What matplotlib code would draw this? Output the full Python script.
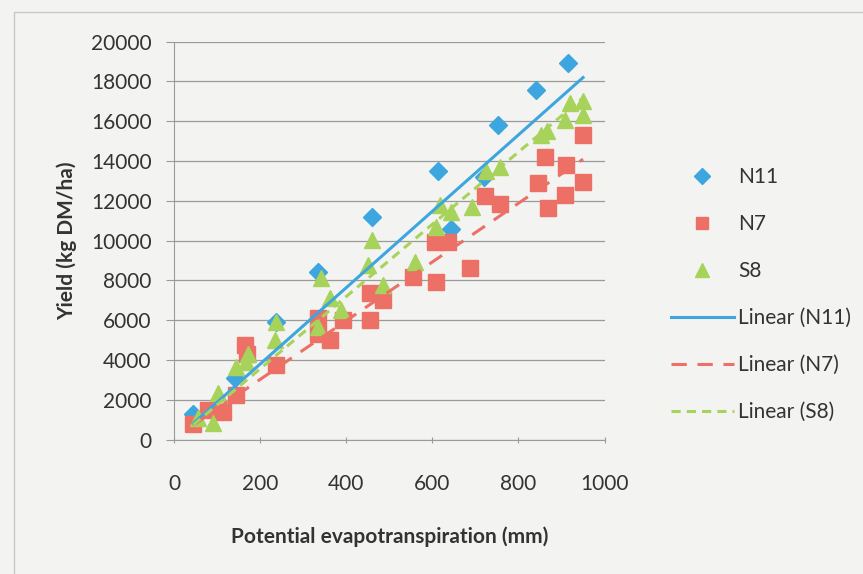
import numpy as np
import matplotlib.pyplot as plt
from matplotlib.patches import Rectangle

plt.rcParams['font.family'] = ['Lato', 'DejaVu Sans']

# Potential evapotranspiration (mm) and yield (kg DM/ha)
n11_x = [45, 142, 238, 335, 459, 613, 644, 720, 752, 841, 915]
n11_y = [1300, 3100, 5900, 8400, 11200, 13500, 10600, 13200, 15800, 17550, 18900]

n7_x = [45, 80, 114, 145, 166, 170, 238, 335, 335, 362, 393, 455, 455, 486,
        555, 609, 606, 637, 687, 722, 756, 845, 861, 869, 907, 911, 950, 950]
n7_y = [800, 1500, 1400, 2240, 4750, 4300, 3740, 6090, 5300, 5000, 6000, 7350,
        6000, 7010, 8180, 7930, 9900, 9900, 8600, 12250, 11850, 12870, 14200,
        11620, 12290, 13800, 15300, 12950]

s8_x = [55, 91, 103, 145, 168, 172, 234, 238, 335, 342, 362, 389, 451, 459,
        486, 559, 609, 617, 644, 691, 725, 756, 853, 866, 907, 919, 950, 950]
s8_y = [1100, 810, 2320, 3660, 3900, 4300, 5000, 5900, 5670, 8100, 7100, 6500,
        8770, 10030, 7760, 8930, 10690, 11780, 11450, 11700, 13500, 13700,
        15300, 15500, 16060, 16900, 17000, 16300]

series_names = ['N11', 'N7', 'S8']
# linear trendlines as drawn in the chart (slope per mm, intercept)
trend_slope = [19.2, 14.76, 18.16]
trend_intercept = [-50, 66, -80]

x_ticks = [0, 200, 400, 600, 800, 1000]
y_ticks = list(range(0, 20001, 2000))

bg = '#f3f3f1'
c_blue = '#3ea6de'
c_red = '#ec7066'
c_green = '#a8d35a'

fig = plt.figure(figsize=(8.63, 5.74), dpi=100, facecolor=bg)
ax = fig.add_axes([0.2016, 0.2343, 0.499, 0.6934], facecolor=bg)

# faint chart-area border
fig.patches.append(Rectangle((0.016, -0.1), 1.1, 1.079, transform=fig.transFigure,
                             fill=False, edgecolor='#c8c8c8', linewidth=1.0))

ax.plot(n11_x, n11_y, 'D', color=c_blue, markersize=9.5, label='N11', zorder=3)
ax.plot(n7_x, n7_y, 's', color=c_red, markersize=11, label='N7', zorder=3)
ax.plot(s8_x, s8_y, '^', color=c_green, markersize=12, label='S8', zorder=3)

all_x = n11_x + n7_x + s8_x
xx = np.array([min(all_x), max(all_x)])
styles = [(c_blue, '-'), (c_red, (0, (5, 3.5))), (c_green, (0, (3, 2)))]
for name, k, b, (col, ls) in zip(series_names, trend_slope, trend_intercept, styles):
    ax.plot(xx, k * xx + b, color=col, linestyle=ls, linewidth=2.2,
            label='Linear (%s)' % name, zorder=4)

ax.set_xlim(0, 1000)
ax.set_ylim(0, 20000)
ax.set_xticks(x_ticks)
ax.set_yticks(y_ticks)
ax.yaxis.grid(True, color='#9a9a9a', linewidth=0.9)
ax.set_axisbelow(True)
for s in ['top', 'right']:
    ax.spines[s].set_visible(False)
for s in ['left', 'bottom']:
    ax.spines[s].set_color('#9a9a9a')
ax.tick_params(axis='both', colors='#9a9a9a', labelsize=15, labelcolor='#333333')
ax.tick_params(axis='y', length=6, pad=10)
ax.tick_params(axis='x', length=5, direction='inout', pad=22)

ax.set_xlabel('Potential evapotranspiration (mm)', fontsize=15, fontweight='bold',
              color='#333333', labelpad=24)
ax.set_ylabel('Yield (kg DM/ha)', fontsize=15, fontweight='bold',
              color='#333333', labelpad=10)

ax.legend(loc='upper left', bbox_to_anchor=(0.756, 0.742), bbox_transform=fig.transFigure,
          frameon=False, fontsize=15, labelspacing=1.3, handlelength=3.0,
          handletextpad=0.2, markerscale=0.85, labelcolor='#333333')

plt.savefig('out.png', dpi=100, facecolor=bg)
